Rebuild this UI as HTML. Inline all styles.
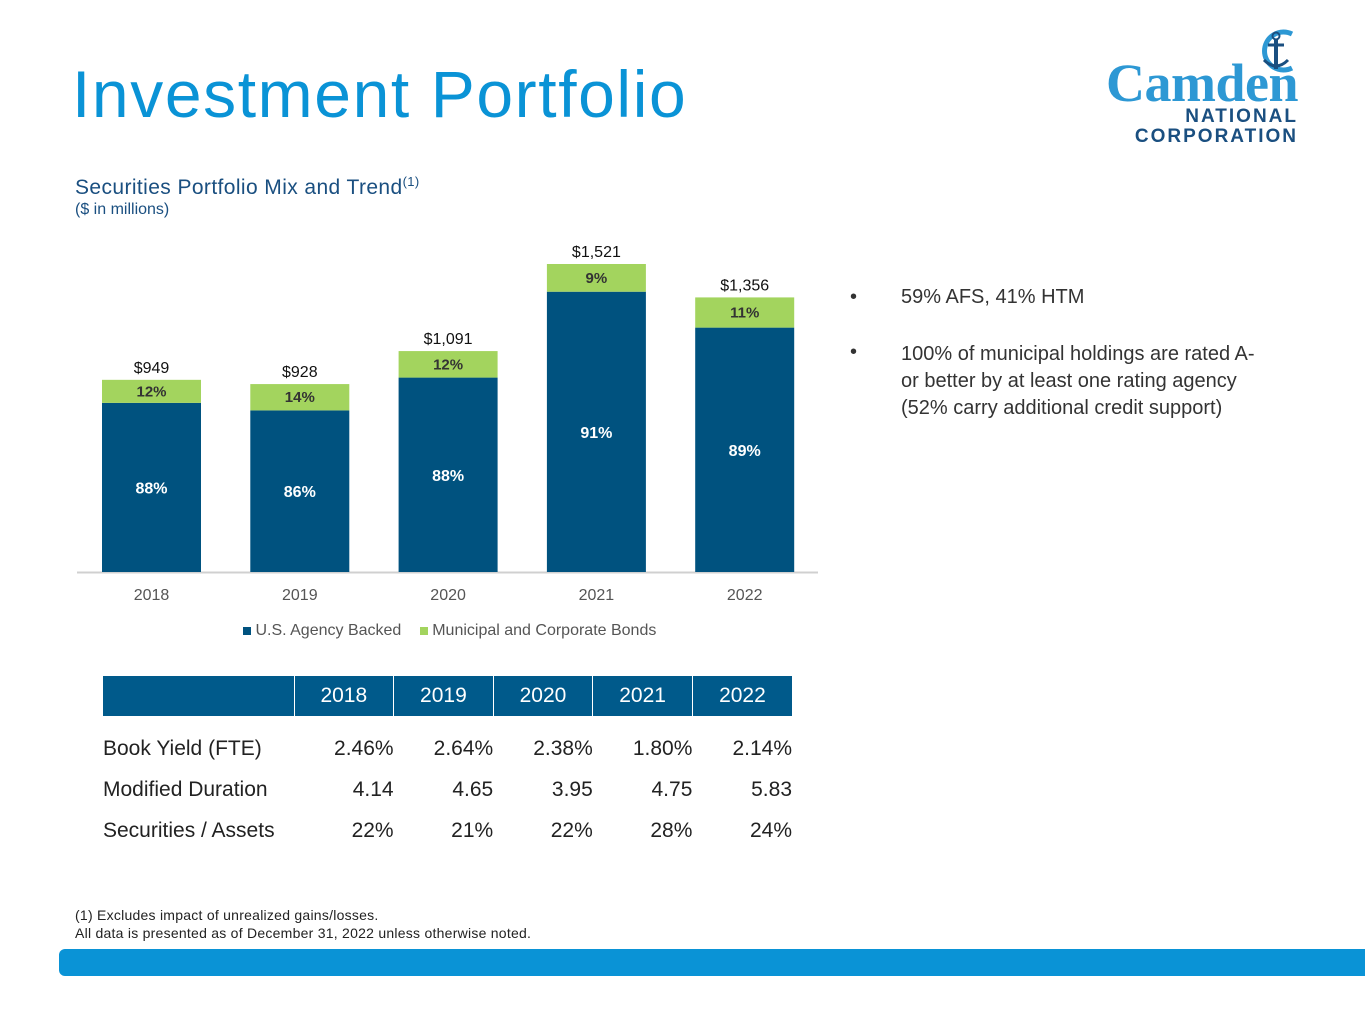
<!DOCTYPE html>
<html><head><meta charset="utf-8">
<style>
body{margin:0;width:1365px;height:1024px;background:#fff;font-family:"Liberation Sans",sans-serif;position:relative;overflow:hidden}
.abs{position:absolute}
table{border-collapse:collapse;table-layout:fixed}
td{padding:0}
</style></head><body>
<div class="abs" style="left:72px;top:56px;font-size:66px;color:#0a93d6;letter-spacing:1.6px;white-space:nowrap">Investment Portfolio</div>
<div class="abs" style="left:1100px;top:22px;width:200px;height:125px">
 <svg class="abs" style="left:0;top:0" width="200" height="125"><path d="M192 12 A19 19 0 1 0 192 46" fill="none" stroke="#2d98d4" stroke-width="5"/><circle cx="176" cy="14" r="3.5" fill="none" stroke="#1a4f80" stroke-width="2"/><line x1="176" y1="18" x2="176" y2="47" stroke="#1a4f80" stroke-width="4"/><line x1="168" y1="23" x2="184" y2="23" stroke="#1a4f80" stroke-width="3"/><path d="M164 38 Q176 50 188 38" fill="none" stroke="#1a4f80" stroke-width="3"/></svg>
 <div class="abs" style="right:2px;top:30px;font-family:'Liberation Serif',serif;font-weight:bold;font-size:54px;color:#2d98d4;letter-spacing:-0.5px">Camden</div>
 <div class="abs" style="right:2px;top:84px;font-size:19px;font-weight:bold;color:#1a4f80;letter-spacing:2px">NATIONAL</div>
 <div class="abs" style="right:2px;top:104px;font-size:19px;font-weight:bold;color:#1a4f80;letter-spacing:2px">CORPORATION</div>
</div>
<div class="abs" style="left:75px;top:174px;font-size:21px;color:#1a4f80;letter-spacing:0.4px">Securities Portfolio Mix and Trend<sup style="font-size:13px">(1)</sup></div>
<div class="abs" style="left:75px;top:201px;font-size:16px;color:#1a4f80">($ in millions)</div>

<svg class="abs" style="left:0;top:0" width="830" height="660" id="chart"></svg>

<div class="abs" style="left:243px;top:622px;font-size:16px;color:#555;white-space:nowrap">
 <span><span style="display:inline-block;width:8px;height:8px;background:#00527f"></span> U.S. Agency Backed</span>
 <span style="margin-left:14px"><span style="display:inline-block;width:8px;height:8px;background:#a3d45e"></span> Municipal and Corporate Bonds</span>
</div>

<div class="abs" style="left:850px;top:286px;font-size:20px;color:#333">•<span style="position:absolute;left:51px;white-space:nowrap">59% AFS, 41% HTM</span></div>
<div class="abs" style="left:850px;top:341px;font-size:20px;color:#333;width:450px">•<div style="position:absolute;left:51px;top:0;width:420px;line-height:27px;white-space:nowrap">100% of municipal holdings are rated A-<br>or better by at least one rating agency<br>(52% carry additional credit support)</div></div>

<table class="abs" style="left:103px;top:676px;width:689px;font-size:21px;color:#222">
<colgroup><col style="width:191px"><col style="width:99.6px"><col style="width:99.6px"><col style="width:99.6px"><col style="width:99.6px"><col style="width:99.6px"></colgroup>
<tr style="background:#005a8b;color:#fff;height:40px">
<td></td>
<td style="text-align:center;border-left:1px solid #fff">2018</td>
<td style="text-align:center;border-left:1px solid #fff">2019</td>
<td style="text-align:center;border-left:1px solid #fff">2020</td>
<td style="text-align:center;border-left:1px solid #fff">2021</td>
<td style="text-align:center;border-left:1px solid #fff">2022</td></tr>
<tr style="height:12px"><td colspan="6"></td></tr>
<tr style="height:41px;text-align:right"><td style="text-align:left">Book Yield (FTE)</td><td>2.46%</td><td>2.64%</td><td>2.38%</td><td>1.80%</td><td>2.14%</td></tr>
<tr style="height:41px;text-align:right"><td style="text-align:left">Modified Duration</td><td>4.14</td><td>4.65</td><td>3.95</td><td>4.75</td><td>5.83</td></tr>
<tr style="height:41px;text-align:right"><td style="text-align:left">Securities / Assets</td><td>22%</td><td>21%</td><td>22%</td><td>28%</td><td>24%</td></tr>
</table>

<div class="abs" style="left:75px;top:906px;font-size:14px;color:#222;line-height:18px;letter-spacing:0.25px">(1) Excludes impact of unrealized gains/losses.<br>All data is presented as of December 31, 2022 unless otherwise noted.</div>
<div class="abs" style="left:59px;top:949px;width:1306px;height:27px;background:#0a93d6;border-radius:6px 0 0 6px"></div>

<script>
const years=["2018","2019","2020","2021","2022"];
const totals=[949,928,1091,1521,1356];
const agencyPct=[88,86,88,91,89];
const muniPct=[12,14,12,9,11];
const totalLabels=["$949","$928","$1,091","$1,521","$1,356"];
const NS="http://www.w3.org/2000/svg";
const svg=document.getElementById('chart');
const base=572, scale=0.2025, x0=102, pitch=148.3, bw=99;
const y=v=>base-v*scale;
const xb=i=>x0+i*pitch;
function el(t,a){const e=document.createElementNS(NS,t);for(const k in a)e.setAttribute(k,a[k]);svg.appendChild(e);return e;}
const ax=el('line',{x1:77,x2:818,y1:base+0.5,y2:base+0.5,stroke:'#d0d0d0','stroke-width':2});


years.forEach((yr,i)=>{
 const tot=totals[i], ag=tot*agencyPct[i]/(agencyPct[i]+muniPct[i]);
 const x=xb(i);
 const b1=el('rect',{x:x,y:y(ag),width:bw,height:base-y(ag),fill:'#00527f'});
 
 
 const b2=el('rect',{x:x,y:y(tot),width:bw,height:y(ag)-y(tot),fill:'#a3d45e'});
 
 
 const t1=el('text',{x:x+bw/2,y:(y(ag)+base)/2+6,'text-anchor':'middle','font-size':16,'font-weight':'bold',fill:'#fff'});
 t1.textContent=agencyPct[i]+'%';
 
 
 const t2=el('text',{x:x+bw/2,y:(y(ag)+y(tot))/2+5,'text-anchor':'middle','font-size':15,'font-weight':'bold',fill:'#333'});
 t2.textContent=muniPct[i]+'%';
 
 
 const t3=el('text',{x:x+bw/2,y:y(tot)-7,'text-anchor':'middle','font-size':16,fill:'#111'});
 t3.textContent=totalLabels[i];
 
 
 const t4=el('text',{x:x+bw/2,y:600,'text-anchor':'middle','font-size':16,fill:'#555'});
 t4.textContent=yr;
 
 
});
</script>
</body></html>
